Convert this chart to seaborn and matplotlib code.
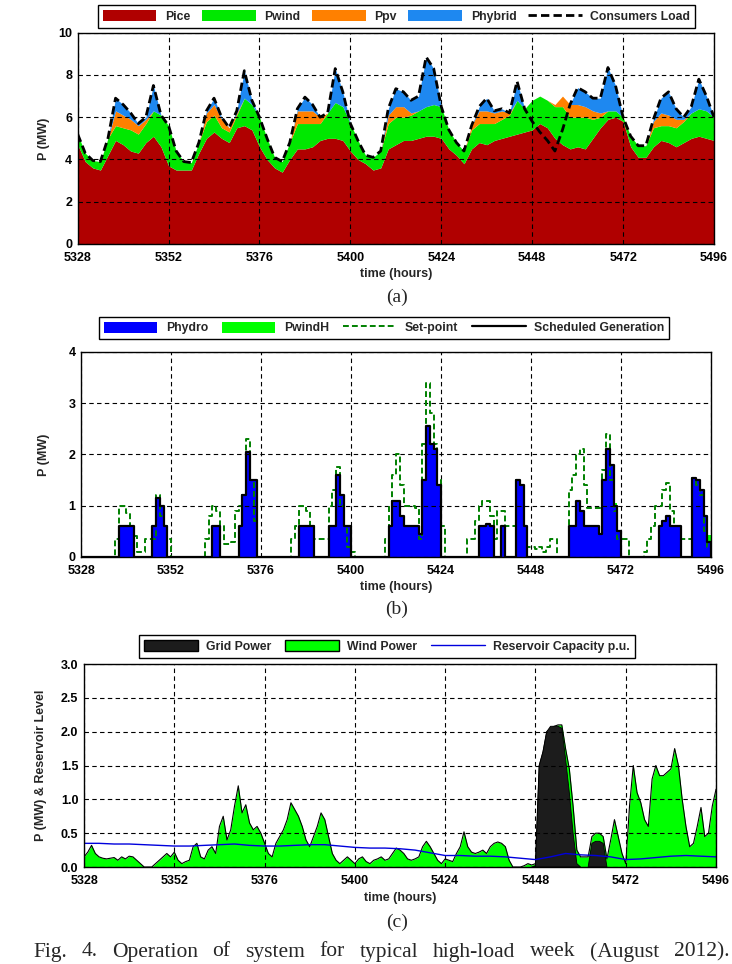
import numpy as np
import pandas as pd
import matplotlib
matplotlib.use("Agg")
import matplotlib.pyplot as plt
import seaborn as sns
from matplotlib.patches import Patch
from matplotlib.lines import Line2D

sns.set_style("white")
plt.rcParams['font.family'] = ['Liberation Sans', 'DejaVu Sans']
plt.rcParams['font.weight'] = 'bold'
plt.rcParams['axes.labelweight'] = 'bold'

# ---------------- data: panel (a), every 2 hours from 5328 to 5496 ----------------
hours_a = list(range(5328, 5497, 2))
load = [5.2, 4.3, 3.95, 3.9, 5.0, 6.9, 6.6, 6.2, 5.7, 6.0, 7.5, 6.1,
        5.6, 4.4, 3.9, 3.85, 4.8, 6.3, 6.9, 6.0, 5.5, 6.3, 8.2, 6.8,
        6.0, 5.0, 4.1, 3.9, 4.8, 6.4, 6.95, 6.6, 6.0, 6.2, 8.3, 7.2,
        5.7, 4.9, 4.2, 4.1, 4.4, 6.4, 7.35, 7.2, 6.8, 7.0, 8.85, 8.3,
        6.5, 5.4, 4.8, 4.4, 5.6, 6.5, 6.9, 6.3, 6.4, 6.2, 7.7, 6.4,
        5.8, 5.3, 4.9, 4.4, 5.4, 6.6, 7.4, 7.2, 6.9, 6.9, 8.35, 7.5,
        6.0, 5.1, 4.65, 4.65, 5.9, 6.9, 7.2, 6.4, 6.0, 6.5, 7.8, 7.0,
        6.0]
pice = [4.7, 3.9, 3.6, 3.5, 4.2, 4.9, 4.7, 4.4, 4.3, 4.8, 5.1, 4.6,
        3.7, 3.5, 3.5, 3.5, 4.3, 5.0, 5.3, 5.0, 4.8, 5.5, 5.6, 5.4,
        4.6, 4.0, 3.6, 3.4, 4.0, 4.5, 4.5, 4.6, 4.9, 5.0, 5.0, 4.9,
        4.4, 4.0, 3.8, 3.5, 3.6, 4.5, 4.7, 4.9, 4.9, 5.0, 5.1, 5.1,
        5.0, 4.5, 4.2, 3.8, 4.5, 4.8, 4.7, 4.9, 5.0, 5.1, 5.2, 5.3,
        5.4, 5.7, 5.5, 5.0, 4.7, 4.5, 4.6, 4.5, 5.0, 5.5, 5.9, 6.0,
        5.8, 4.6, 4.1, 4.1, 4.6, 4.9, 4.8, 4.6, 4.8, 5.0, 5.1, 5.0,
        4.9]
pwind = [0.5, 0.4, 0.35, 0.4, 0.8, 0.7, 0.8, 1.0, 0.9, 0.9, 1.2, 1.5,
         1.9, 0.9, 0.4, 0.35, 0.5, 0.8, 0.8, 0.5, 0.5, 0.6, 1.3, 1.2,
         1.4, 1.0, 0.5, 0.5, 0.8, 1.2, 1.2, 1.1, 0.8, 1.2, 1.7, 1.6,
         1.3, 0.9, 0.4, 0.6, 0.8, 1.2, 1.3, 1.1, 1.2, 1.3, 1.4, 1.5,
         1.5, 0.9, 0.6, 0.6, 0.9, 0.9, 1.0, 0.8, 0.9, 1.0, 1.6, 1.1,
         1.4, 1.3, 1.3, 1.5, 1.8, 1.5, 1.4, 1.5, 0.9, 0.5, 0.4, 0.3,
         0.2, 0.5, 0.55, 0.55, 0.9, 0.7, 0.8, 0.9, 1.0, 1.2, 1.3, 1.3,
         1.1]
ppv = [0, 0, 0, 0, 0, 0.7, 0.6, 0.5, 0.4, 0.2, 0, 0,
       0, 0, 0, 0, 0, 0.4, 0.5, 0.4, 0.2, 0.1, 0, 0,
       0, 0, 0, 0, 0, 0.6, 0.6, 0.6, 0.3, 0, 0, 0,
       0, 0, 0, 0, 0, 0.4, 0.5, 0.5, 0.1, 0, 0, 0,
       0, 0, 0, 0, 0.2, 0.6, 0.6, 0.5, 0.4, 0.1, 0, 0,
       0, 0, 0, 0.1, 0.5, 0.6, 0.6, 0.5, 0.4, 0.2, 0, 0,
       0, 0, 0, 0, 0.3, 0.6, 0.5, 0.4, 0.1, 0, 0, 0,
       0]
phybrid = [0, 0, 0, 0, 0, 0.6, 0.5, 0.3, 0.1, 0.1, 1.2, 0,
           0, 0, 0, 0, 0, 0.1, 0.3, 0.1, 0, 0.1, 1.3, 0.2,
           0, 0, 0, 0, 0, 0.1, 0.65, 0.3, 0, 0, 1.6, 0.7,
           0, 0, 0, 0, 0, 0.3, 0.85, 0.7, 0.6, 0.7, 2.35, 1.7,
           0, 0, 0, 0, 0, 0.2, 0.6, 0.1, 0.1, 0, 0.9, 0,
           0, 0, 0, 0, 0, 0, 0.8, 0.7, 0.6, 0.7, 2.05, 1.2,
           0, 0, 0, 0, 0.1, 0.7, 1.1, 0.5, 0.1, 0.3, 1.4, 0.7,
           0]

# ---------------- data: panel (b), hourly 5328..5496 ----------------
hours_h = list(range(5328, 5497))
phydro = [0, 0, 0, 0, 0, 0, 0, 0, 0, 0, 0.6, 0.6, 0.6, 0.6, 0, 0, 0, 0, 0, 0.6, 1.15, 1.0, 0.6, 0,
          0, 0, 0, 0, 0, 0, 0, 0, 0, 0, 0, 0.6, 0.6, 0, 0, 0, 0, 0, 0.6, 1.2, 2.05, 1.5, 1.5, 0,
          0, 0, 0, 0, 0, 0, 0, 0, 0, 0, 0.6, 0.6, 0.6, 0.6, 0, 0, 0, 0, 0.6, 0.6, 1.6, 1.2, 0.6, 0.6,
          0, 0, 0, 0, 0, 0, 0, 0, 0, 0, 0.6, 1.1, 1.1, 0.8, 0.6, 0.6, 0.6, 0.6, 0.45, 1.5, 2.55, 2.2, 2.1, 1.4,
          0, 0, 0, 0, 0, 0, 0, 0, 0, 0, 0.6, 0.6, 0.65, 0.6, 0, 0, 0.6, 0, 0, 0, 1.5, 1.4, 0.6, 0,
          0, 0, 0, 0, 0, 0, 0, 0, 0, 0, 0.6, 0.6, 1.1, 0.9, 0.6, 0.6, 0.6, 0.6, 0.45, 1.5, 2.1, 1.8, 1.0, 0.5,
          0, 0, 0, 0, 0, 0, 0, 0, 0, 0, 0.6, 0.7, 0.8, 0.6, 0.6, 0.6, 0, 0, 0, 1.55, 1.5, 1.3, 0.8, 0.3,
          0]
setpoint = [0, 0, 0, 0, 0, 0, 0, 0, 0, 0.35, 1.0, 1.0, 0.85, 0.6, 0.4, 0.1, 0.1, 0.35, 0.35, 0.35, 1.2, 0.8, 0.6, 0.35,
            0, 0, 0, 0, 0, 0, 0, 0, 0, 0.35, 0.8, 1.0, 0.9, 0.6, 0.25, 0.25, 0.3, 0.9, 1.0, 1.2, 2.3, 1.5, 0.7, 0,
            0, 0, 0, 0, 0, 0, 0, 0, 0.35, 0.6, 1.0, 1.0, 0.9, 0.6, 0.35, 0.35, 0.35, 0.35, 1.0, 1.3, 1.75, 1.0, 0.6, 0.2,
            0.1, 0, 0, 0, 0, 0, 0, 0, 0, 0.35, 1.0, 1.6, 2.0, 1.4, 1.0, 1.0, 1.0, 0.95, 0.35, 2.2, 3.4, 2.8, 2.2, 1.5,
            0.6, 0, 0, 0, 0, 0, 0, 0.35, 0.35, 0.7, 1.0, 1.1, 1.1, 0.8, 0.35, 0.9, 0.9, 0.6, 0.6, 0.6, 1.5, 1.4, 0.6, 0.2,
            0.2, 0.15, 0.2, 0.1, 0.2, 0.35, 0.35, 0, 0, 0, 1.3, 1.6, 2.0, 2.1, 1.4, 0.95, 0.95, 0.95, 0.95, 1.7, 2.4, 1.5, 0.9, 0.35,
            0.35, 0.35, 0, 0, 0, 0, 0.1, 0.35, 0.6, 1.0, 1.0, 1.3, 1.45, 0.9, 0.6, 0.6, 0.35, 0.35, 0.35, 1.55, 1.4, 1.2, 0.5, 0.2,
            0.1]
pwindh_hours = [5469, 5470, 5471, 5494, 5495, 5496]
pwindh_vals = [0.0, 0.05, 0.0, 0.0, 0.12, 0.15]

# ---------------- data: panel (c), hourly 5328..5496 ----------------
wind_power = [0.15, 0.22, 0.32, 0.2, 0.15, 0.13, 0.12, 0.13, 0.14, 0.1, 0.15, 0.12, 0.16, 0.15, 0.1, 0.05, 0.0, 0.0, 0.0, 0.05, 0.1, 0.15, 0.2, 0.15,
              0.22, 0.1, 0.05, 0.08, 0.1, 0.3, 0.35, 0.15, 0.12, 0.25, 0.3, 0.2, 0.6, 0.75, 0.4, 0.55, 0.9, 1.2, 0.8, 0.92, 0.65, 0.55, 0.6, 0.5,
              0.35, 0.2, 0.15, 0.35, 0.45, 0.55, 0.7, 0.95, 0.85, 0.75, 0.6, 0.4, 0.3, 0.45, 0.6, 0.8, 0.7, 0.45, 0.2, 0.1, 0.05, 0.1, 0.15, 0.1,
              0.05, 0.12, 0.15, 0.08, 0.05, 0.1, 0.12, 0.15, 0.1, 0.12, 0.2, 0.28, 0.25, 0.2, 0.12, 0.1, 0.12, 0.15, 0.3, 0.38, 0.3, 0.2, 0.1, 0.05,
              0.12, 0.1, 0.08, 0.2, 0.3, 0.52, 0.3, 0.22, 0.2, 0.22, 0.25, 0.2, 0.3, 0.35, 0.37, 0.35, 0.3, 0.1, 0.0, 0.0, 0.0, 0.02, 0.05, 0.03,
              0.05, 1.5, 1.7, 2.0, 2.05, 2.08, 2.1, 2.1, 1.75, 1.45, 0.9, 0.25, 0.15, 0.15, 0.15, 0.45, 0.5, 0.5, 0.45, 0.12, 0.4, 0.7, 0.45, 0.2,
              0.05, 0.9, 1.5, 1.1, 0.95, 0.7, 0.6, 1.3, 1.5, 1.35, 1.35, 1.4, 1.45, 1.75, 1.5, 1.0, 0.6, 0.3, 0.35, 0.6, 0.88, 0.45, 0.5, 0.9,
              1.15]
grid_hours = [5447, 5448, 5449, 5450, 5451, 5452, 5453, 5454, 5455, 5456, 5457, 5458, 5459, 5460,
              5461, 5462, 5463, 5464, 5465, 5466, 5467, 5468]
grid_vals = [0, 0.02, 1.5, 1.7, 2.0, 2.08, 2.08, 2.08, 2.05, 1.6, 1.1, 0.5, 0.05, 0,
             0, 0, 0.35, 0.38, 0.38, 0.35, 0, 0]
res_hours = list(range(5328, 5497, 4))
reservoir = [0.35, 0.35, 0.34, 0.34, 0.33, 0.32, 0.31, 0.31, 0.32, 0.33, 0.34, 0.32, 0.31, 0.31,
             0.32, 0.33, 0.33, 0.31, 0.29, 0.28, 0.28, 0.27, 0.25, 0.21, 0.17, 0.17, 0.16, 0.16,
             0.15, 0.13, 0.11, 0.15, 0.2, 0.18, 0.17, 0.15, 0.11, 0.12, 0.14, 0.16, 0.17, 0.16, 0.15]

xticks = [5328, 5352, 5376, 5400, 5424, 5448, 5472, 5496]

# ---------------- figure ----------------
fig = plt.figure(figsize=(7.32, 9.64), dpi=100)
axa = fig.add_axes([0.1061, 0.7469, 0.8693, 0.2192])
axb = fig.add_axes([0.1107, 0.4222, 0.8607, 0.2127])
axc = fig.add_axes([0.1148, 0.1006, 0.8634, 0.2106])


def style(ax, ylim, yticks, fmt, ylabel, ylab_x, xlab_y):
    ax.set_xlim(5328, 5496)
    ax.set_ylim(*ylim)
    ax.set_xticks(xticks)
    ax.set_yticks(yticks)
    ax.set_yticklabels([fmt.format(v) for v in yticks])
    ax.set_xticklabels([str(v) for v in xticks])
    ax.grid(True, color='k', linestyle=(0, (4, 3)), linewidth=0.8)
    ax.set_axisbelow(False)
    for s in ax.spines.values():
        s.set_visible(True)
        s.set_color('k')
        s.set_linewidth(1.0)
        s.set_zorder(6)
    ax.tick_params(direction='in', length=3, width=0.8, labelsize=9, colors='k')
    ax.tick_params(axis='x', pad=5.5)
    ax.tick_params(axis='y', pad=4)
    for lab in ax.get_xticklabels() + ax.get_yticklabels():
        lab.set_fontweight('bold')
    ax.set_xlabel('time (hours)', fontsize=9, fontweight='bold')
    ax.set_ylabel(ylabel, fontsize=9, fontweight='bold')
    ax.xaxis.set_label_coords(0.5, xlab_y)
    ax.yaxis.set_label_coords(ylab_x, 0.5)


# ---- panel (a)
df_a = pd.DataFrame({'hour': hours_a, 'load': load, 'Pice': pice, 'Pwind': pwind,
                     'Ppv': ppv, 'Phybrid': phybrid})
cols_a = {'Pice': '#B00000', 'Pwind': '#00E800', 'Ppv': '#FF8000', 'Phybrid': '#1E88F0'}
base = np.zeros(len(df_a))
for name, col in cols_a.items():
    top = base + df_a[name].to_numpy()
    axa.fill_between(df_a['hour'], base, top, color=col, lw=0, zorder=1)
    base = top
sns.lineplot(data=df_a, x='hour', y='load', ax=axa, color='k', lw=2.0,
             linestyle=(0, (3, 1.5)), zorder=4)
style(axa, (0, 10), [0, 2, 4, 6, 8, 10], '{:g}', 'P (MW)', -0.0435, -0.1135)

# ---- panel (b)
df_b = pd.DataFrame({'hour': hours_h, 'Phydro': phydro, 'Setpoint': setpoint})
pwh = pd.Series(0.0, index=hours_h)
pwh.loc[pwindh_hours] = pwindh_vals
df_b['PwindH'] = pwh.to_numpy()
axb.fill_between(df_b['hour'], 0, df_b['Phydro'], step='post', color='#0000FF', lw=0, zorder=1)
axb.fill_between(df_b['hour'], df_b['Phydro'], df_b['Phydro'] + df_b['PwindH'], step='post',
                 color='#00FF00', lw=0, zorder=1)
sns.lineplot(data=df_b, x='hour', y='Setpoint', ax=axb, color='#008000', lw=1.4,
             linestyle=(0, (3, 1.6)), drawstyle='steps-post', zorder=3)
sns.lineplot(data=df_b, x='hour', y='Phydro', ax=axb, color='k', lw=1.6,
             drawstyle='steps-post', zorder=4)
style(axb, (0, 4), [0, 1, 2, 3, 4], '{:g}', 'P (MW)', -0.049, -0.117)

# ---- panel (c)
df_c = pd.DataFrame({'hour': hours_h, 'Wind': wind_power})
gs = pd.Series(0.0, index=hours_h)
gs.loc[grid_hours] = grid_vals
df_c['Grid'] = gs.to_numpy()
df_r = pd.DataFrame({'hour': res_hours, 'Reservoir': reservoir})
axc.fill_between(df_c['hour'], 0, df_c['Wind'], color='#00FF00', lw=0, zorder=1)
sns.lineplot(data=df_c, x='hour', y='Wind', ax=axc, color='k', lw=0.8, zorder=2)
axc.fill_between(df_c['hour'], 0, df_c['Grid'], where=df_c['Grid'] > 0, interpolate=True,
                 facecolor='#1C1C1C', edgecolor='k', lw=0.6, zorder=2.2)
sns.lineplot(data=df_r, x='hour', y='Reservoir', ax=axc, color='#0000DD', lw=1.0, zorder=5)
style(axc, (0, 3), [0, 0.5, 1.0, 1.5, 2.0, 2.5, 3.0], '{:.1f}', 'P (MW) & Reservoir Level',
      -0.0585, -0.123)

# ---- legends
leg_kw = dict(loc='center', frameon=True, fancybox=False, edgecolor='k', framealpha=1,
              prop={'weight': 'bold', 'size': 8.8, 'family': 'Liberation Sans'},
              handlelength=4.4, handleheight=1.0, handletextpad=0.7, columnspacing=1.1,
              borderpad=0.4, borderaxespad=0)
h_a = [Patch(facecolor=c, edgecolor='none') for c in cols_a.values()] + \
      [Line2D([], [], color='k', lw=2.0, linestyle=(0, (3, 1.5)))]
kw_a = dict(leg_kw, columnspacing=0.95)
la = fig.legend(h_a, ['Pice', 'Pwind', 'Ppv', 'Phybrid', 'Consumers Load'], ncol=5,
                bbox_to_anchor=(0.5417, 0.9829), **kw_a)
la.get_frame().set_linewidth(1.0)
h_b = [Patch(facecolor='#0000FF', edgecolor='none'), Patch(facecolor='#00FF00', edgecolor='none'),
       Line2D([], [], color='#008000', lw=1.4, linestyle=(0, (3, 1.6))),
       Line2D([], [], color='k', lw=1.6)]
lb = fig.legend(h_b, ['Phydro', 'PwindH', 'Set-point', 'Scheduled Generation'], ncol=4,
                bbox_to_anchor=(0.5246, 0.6598), **leg_kw)
lb.get_frame().set_linewidth(1.0)
h_c = [Patch(facecolor='#1C1C1C', edgecolor='k'), Patch(facecolor='#00FF00', edgecolor='k'),
       Line2D([], [], color='#0000DD', lw=1.0)]
lc = fig.legend(h_c, ['Grid Power', 'Wind Power', 'Reservoir Capacity p.u.'], ncol=3,
                bbox_to_anchor=(0.5287, 0.3294), **leg_kw)
lc.get_frame().set_linewidth(1.0)

# ---- sub-captions and justified caption
serif = ['Liberation Serif', 'DejaVu Serif']
for lab, yp in [('(a)', 297), ('(b)', 609), ('(c)', 922)]:
    fig.text(397 / 732, 1 - yp / 964, lab, ha='center', va='center', fontsize=14,
             family=serif, fontweight='normal')
words = ['Fig.', '4.', 'Operation', 'of', 'system', 'for', 'typical', 'high-load', 'week',
         '(August', '2012).']
renderer = fig.canvas.get_renderer()
tobjs = [fig.text(0, 1 - 952 / 964, w, ha='left', va='center', fontsize=15.5,
                  family=serif, fontweight='normal') for w in words]
widths = [t.get_window_extent(renderer).width for t in tobjs]
x0, x1 = 33.0, 729.0
gap = (x1 - x0 - sum(widths)) / (len(words) - 1)
xp = x0
for t, w in zip(tobjs, widths):
    t.set_x(xp / 732)
    xp += w + gap

fig.savefig('out.png', dpi=100)
